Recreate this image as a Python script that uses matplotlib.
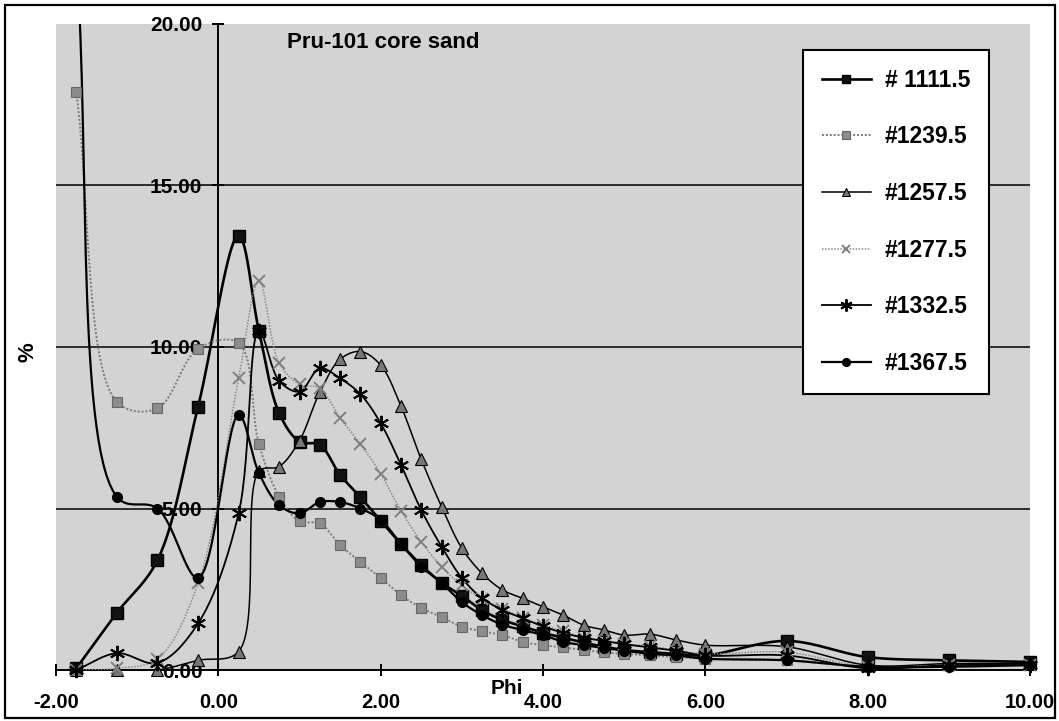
import numpy as np
import matplotlib
matplotlib.use("Agg")
import matplotlib.pyplot as plt
from matplotlib.patches import Rectangle
from matplotlib.lines import Line2D

plt.rcParams['font.family'] = ['Liberation Sans', 'DejaVu Sans']

# Phi classes (x axis)
PHI = [-1.75, -1.25, -0.75, -0.25, 0.25, 0.5, 0.75, 1.0, 1.25, 1.5, 1.75,
       2.0, 2.25, 2.5, 2.75, 3.0, 3.25, 3.5, 3.75, 4.0, 4.25, 4.5, 4.75,
       5.0, 5.32, 5.64, 6.0, 7.0, 8.0, 9.0, 10.0]

S1111 = [0.05, 1.77, 3.4, 8.15, 13.45, 10.5, 7.95, 7.07, 6.97, 6.04, 5.35,
         4.62, 3.9, 3.25, 2.7, 2.3, 1.85, 1.55, 1.35, 1.15, 1.0, 0.85, 0.72,
         0.62, 0.55, 0.5, 0.45, 0.9, 0.4, 0.3, 0.25]
S1239 = [17.9, 8.3, 8.1, 9.95, 10.13, 7.0, 5.37, 4.6, 4.54, 3.87, 3.35,
         2.85, 2.32, 1.92, 1.64, 1.34, 1.2, 1.08, 0.87, 0.77, 0.7, 0.62, 0.55,
         0.5, 0.45, 0.4, 0.35, 0.3, 0.1, 0.15, 0.15]
S1257 = [0.0, 0.0, 0.0, 0.3, 0.57, 6.15, 6.3, 7.1, 8.6, 9.62, 9.86,
         9.44, 8.17, 6.52, 5.06, 3.77, 2.99, 2.48, 2.22, 1.96, 1.7, 1.39, 1.24,
         1.08, 1.11, 0.93, 0.77, 0.72, 0.15, 0.2, 0.2]
S1277 = [0.0, 0.05, 0.35, 2.68, 9.03, 12.05, 9.5, 8.85, 8.72, 7.8, 7.0,
         6.08, 4.93, 3.97, 3.2, 2.62, 2.2, 1.9, 1.6, 1.4, 1.2, 1.0, 0.9,
         0.8, 0.75, 0.6, 0.5, 0.55, 0.1, 0.15, 0.15]
S1332 = [0.0, 0.52, 0.22, 1.44, 4.85, 10.5, 8.95, 8.62, 9.34, 9.03, 8.54,
         7.64, 6.35, 4.95, 3.82, 2.85, 2.22, 1.86, 1.6, 1.35, 1.15, 1.0, 0.9,
         0.8, 0.7, 0.6, 0.45, 0.45, 0.05, 0.15, 0.15]
S1367 = [22.0, 5.36, 5.0, 2.85, 7.9, 6.1, 5.1, 4.85, 5.2, 5.2, 5.0,
         4.65, 3.9, 3.2, 2.7, 2.1, 1.7, 1.4, 1.24, 1.08, 0.87, 0.77, 0.68,
         0.6, 0.5, 0.45, 0.35, 0.3, 0.1, 0.1, 0.15]

LABELS = ["# 1111.5", "#1239.5", "#1257.5", "#1277.5", "#1332.5", "#1367.5"]
XTICKS = [-2, 0, 2, 4, 6, 8, 10]
YTICKS = [0, 5, 10, 15, 20]

STYLES = [
    dict(color='black', lw=1.9, ls='-', marker='s', ms=8, mfc='#111111', mec='black', mew=1.0),
    dict(color='#7a7a7a', lw=1.4, ls=(0, (1, 1)), marker='s', ms=7.5, mfc='#8c8c8c', mec='#666666', mew=0.8),
    dict(color='black', lw=1.1, ls='-', marker='^', ms=8, mfc='#777777', mec='black', mew=0.8),
    dict(color='#8a8a8a', lw=1.1, ls=(0, (1, 1)), marker='x', ms=8, mfc='none', mec='#808080', mew=1.4),
    dict(color='black', lw=1.3, ls='-', marker=(6, 2, 0), ms=11, mfc='none', mec='black', mew=1.4),
    dict(color='black', lw=1.6, ls='-', marker='o', ms=7, mfc='black', mec='black', mew=1.0),
]

# rough pixel size of one data unit, used so the smoothing works in screen space
PX_X = 81.2
PX_Y = 32.3


def smooth_path(xs, ys, n=30):
    """Centripetal Catmull-Rom curve through the points (smoothed line)."""
    P = np.column_stack([np.asarray(xs, float) * PX_X, np.asarray(ys, float) * PX_Y])
    p = np.vstack([2 * P[0] - P[1], P, 2 * P[-1] - P[-2]])
    segs = []
    for i in range(1, len(p) - 2):
        p0, p1, p2, p3 = p[i - 1], p[i], p[i + 1], p[i + 2]
        t0 = 0.0
        t1 = t0 + max(np.linalg.norm(p1 - p0), 1e-6) ** 0.5
        t2 = t1 + max(np.linalg.norm(p2 - p1), 1e-6) ** 0.5
        t3 = t2 + max(np.linalg.norm(p3 - p2), 1e-6) ** 0.5
        t = np.linspace(t1, t2, n, endpoint=False)[:, None]
        a1 = (t1 - t) / (t1 - t0) * p0 + (t - t0) / (t1 - t0) * p1
        a2 = (t2 - t) / (t2 - t1) * p1 + (t - t1) / (t2 - t1) * p2
        a3 = (t3 - t) / (t3 - t2) * p2 + (t - t2) / (t3 - t2) * p3
        b1 = (t2 - t) / (t2 - t0) * a1 + (t - t0) / (t2 - t0) * a2
        b2 = (t3 - t) / (t3 - t1) * a2 + (t - t1) / (t3 - t1) * a3
        segs.append((t2 - t) / (t2 - t1) * b1 + (t - t1) / (t2 - t1) * b2)
    segs.append(P[-1:])
    out = np.vstack(segs)
    return out[:, 0] / PX_X, out[:, 1] / PX_Y


def main():
    fig = plt.figure(figsize=(10.59, 7.21), dpi=100)
    ax = fig.add_axes([56 / 1059, 51 / 721, 974 / 1059, 646 / 721])
    ax.set_facecolor('#d3d3d3')
    ax.set_xlim(-2, 10)
    ax.set_ylim(0, 20)

    # horizontal grid lines (not at the top)
    for y in YTICKS[1:-1]:
        ax.axhline(y, color='black', lw=1.1, zorder=1)

    series = [S1111, S1239, S1257, S1277, S1332, S1367]
    handles = []
    for vals, st in zip(series, STYLES):
        sx, sy = smooth_path(PHI, vals)
        ax.plot(sx, sy, color=st['color'], lw=st['lw'], ls=st['ls'], zorder=3)
        px = np.array(PHI)
        py = np.array(vals)
        keep = py <= 20
        ax.plot(px[keep], py[keep], ls='none', marker=st['marker'], ms=st['ms'],
                mfc=st['mfc'], mec=st['mec'], mew=st['mew'], zorder=4, clip_on=False)
        handles.append(Line2D([], [], color=st['color'], lw=st['lw'], ls=st['ls'],
                              marker=st['marker'], ms=st['ms'] * 0.8, mfc=st['mfc'],
                              mec=st['mec'], mew=st['mew']))

    # axes: y axis sits at phi = 0
    ax.spines['left'].set_position(('data', 0))
    ax.spines['top'].set_visible(False)
    ax.spines['right'].set_visible(False)
    for s in ('left', 'bottom'):
        ax.spines[s].set_linewidth(1.4)
        ax.spines[s].set_zorder(2)

    ax.set_xticks(XTICKS)
    ax.set_xticklabels([f"{v:.2f}" for v in XTICKS])
    ax.set_yticks(YTICKS)
    ax.set_yticklabels([f"{v:.2f}" for v in YTICKS])
    ax.tick_params(axis='both', direction='inout', length=9, width=1.4)
    ax.tick_params(axis='x', pad=12, labelsize=14.5)
    ax.tick_params(axis='y', pad=7, labelsize=15)
    for lab in ax.get_xticklabels() + ax.get_yticklabels():
        lab.set_fontweight('bold')

    ax.text(0.336, 0.972, "Pru-101 core sand", transform=ax.transAxes,
            ha='center', va='center', fontsize=16, fontweight='bold')

    fig.text(507 / 1059, 1 - 689 / 721, "Phi", ha='center', va='center',
             fontsize=15, fontweight='bold')
    fig.text(28 / 1059, 1 - 352 / 721, "%", ha='center', va='center',
             rotation=90, fontsize=16, fontweight='bold')

    leg = ax.legend(handles, LABELS, loc='upper left',
                    bbox_to_anchor=(803 / 1059, 1 - 50 / 721),
                    bbox_transform=fig.transFigure, borderaxespad=0,
                    frameon=True, fancybox=False, framealpha=1,
                    edgecolor='black', facecolor='white',
                    prop=dict(size=16.5, weight='bold'),
                    handlelength=2.15, handletextpad=0.6,
                    labelspacing=1.47, borderpad=0.81)
    leg.get_frame().set_linewidth(1.5)
    leg.set_zorder(10)

    # border round the whole picture
    fig.patches.append(Rectangle((5 / 1059, 3 / 721), 1050 / 1059, 713 / 721,
                                 transform=fig.transFigure, fill=False,
                                 lw=1.6, ec='black'))

    fig.savefig('out.png', dpi=100)
    plt.close(fig)


if __name__ == "__main__":
    main()
